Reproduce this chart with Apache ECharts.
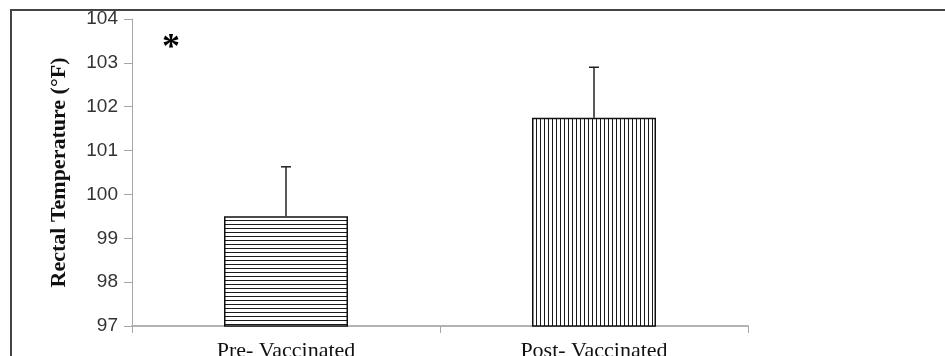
<!DOCTYPE html>
<html>
<head>
<meta charset="utf-8">
<script src="https://cdn.jsdelivr.net/npm/echarts@6/dist/echarts.min.js"></script>
<style>
html,body{margin:0;padding:0;background:#fff;}
#chart{width:945px;height:356px;}
</style>
</head>
<body>
<div id="chart"></div>
<script>
// ---- data ----
const categories = ['Pre- Vaccinated', 'Post- Vaccinated'];
const meanTemps = [99.5, 101.75];
const errorUpper = [1.13, 1.15];
const yTicks = [97, 98, 99, 100, 101, 102, 103, 104];
const yTitle = 'Rectal Temperature (°F)';
const annotationText = '*';

function makePattern(horizontal) {
  const c = document.createElement('canvas');
  c.width = 4; c.height = 4;
  const ctx = c.getContext('2d');
  ctx.fillStyle = '#ffffff';
  ctx.fillRect(0, 0, 4, 4);
  ctx.fillStyle = '#1a1a1a';
  if (horizontal) ctx.fillRect(0, 0, 4, 1);
  else ctx.fillRect(0, 0, 1, 4);
  return c;
}
const patterns = [makePattern(true), makePattern(false)];

const chart = echarts.init(document.getElementById('chart'), null, {renderer: 'canvas'});

const barData = meanTemps.map((v, i) => ({
  value: v,
  itemStyle: {
    color: {image: patterns[i], repeat: 'repeat'},
    borderColor: '#111',
    borderWidth: 1.5
  }
}));

const errData = meanTemps.map((v, i) => [i, v, v + errorUpper[i]]);

chart.setOption({
  animation: false,
  backgroundColor: '#fff',
  grid: {left: 132, top: 19, right: 197, bottom: 30, containLabel: false, outerBoundsMode: 'none'},
  xAxis: {
    type: 'category',
    data: categories,
    axisLine: {lineStyle: {color: '#b3b3b3', width: 2}},
    axisTick: {show: true, length: 7, lineStyle: {color: '#a6a6a6', width: 1}},
    axisLabel: {
      fontFamily: 'Liberation Serif',
      fontSize: 22,
      color: '#111',
      margin: 14
    }
  },
  yAxis: {
    type: 'value',
    min: 97,
    max: 104,
    interval: 1,
    name: yTitle,
    nameLocation: 'middle',
    nameGap: 62,
    nameTextStyle: {
      fontFamily: 'Liberation Serif',
      fontWeight: 'bold',
      fontSize: 22,
      color: '#111'
    },
    axisLine: {show: true, lineStyle: {color: '#a6a6a6', width: 1}},
    axisTick: {show: true, length: 8, lineStyle: {color: '#a6a6a6', width: 1}},
    splitLine: {show: false},
    axisLabel: {
      fontFamily: 'Liberation Sans',
      fontSize: 19,
      color: '#333',
      margin: 14,
      formatter: function (v) { return yTicks.indexOf(v) >= 0 ? String(v) : ''; }
    }
  },
  graphic: [
    {
      type: 'polyline',
      shape: {points: [[11, 400], [11, 10], [1000, 10]]},
      style: {stroke: '#444', lineWidth: 2, fill: null},
      silent: true
    },
    {
      type: 'text',
      left: 162,
      top: 31,
      style: {
        text: annotationText,
        fontFamily: 'Liberation Serif',
        fontWeight: 'bold',
        fontSize: 36,
        fill: '#000'
      }
    }
  ],
  series: [
    {
      type: 'bar',
      data: barData,
      barWidth: 124,
      z: 2
    },
    {
      type: 'custom',
      z: 3,
      data: errData,
      renderItem: function (params, api) {
        const x = api.coord([api.value(0), api.value(1)]);
        const top = api.coord([api.value(0), api.value(2)]);
        const half = 5;
        return {
          type: 'group',
          children: [
            {type: 'line', shape: {x1: x[0], y1: x[1], x2: top[0], y2: top[1]},
             style: {stroke: '#222', lineWidth: 1.5}},
            {type: 'line', shape: {x1: top[0] - half, y1: top[1], x2: top[0] + half, y2: top[1]},
             style: {stroke: '#222', lineWidth: 1.5}}
          ]
        };
      }
    }
  ]
});
</script>
</body>
</html>
